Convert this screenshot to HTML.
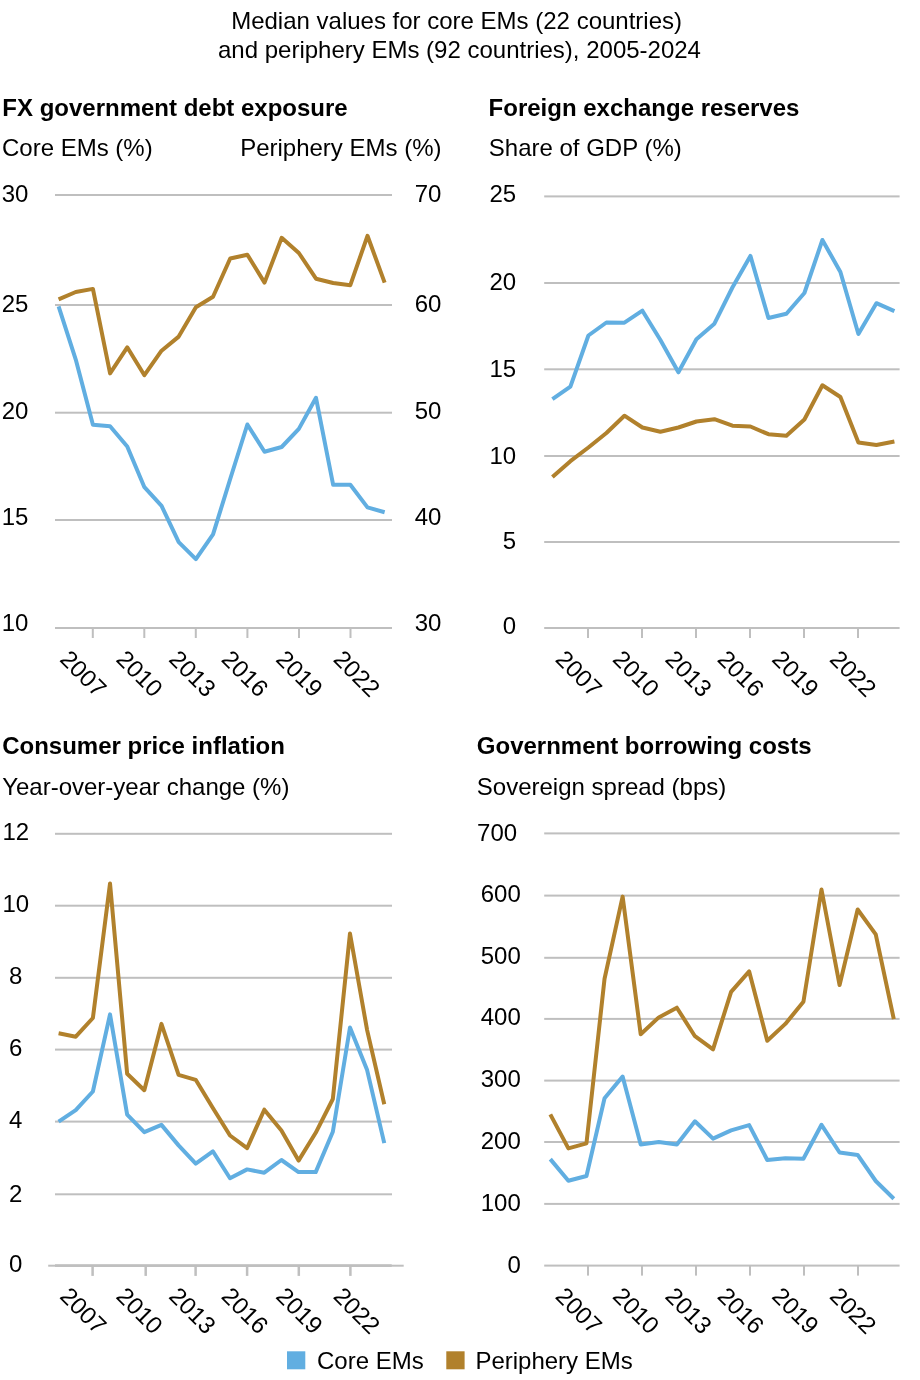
<!DOCTYPE html>
<html lang="en">
<head>
<meta charset="utf-8">
<title>Median values for core EMs and periphery EMs, 2005-2024</title>
<style>
html, body { margin: 0; padding: 0; background: #ffffff; }
body { width: 920px; height: 1380px; overflow: hidden; }
svg { display: block; }
text { font-family: "Liberation Sans", Arial, Helvetica, sans-serif; fill: #000000; }
</style>
</head>
<body>
<svg width="920" height="1380" viewBox="0 0 920 1380" font-size="24">
<rect x="0" y="0" width="920" height="1380" fill="#ffffff"/>
<text x="456.6" y="29" text-anchor="middle">Median values for core EMs (22 countries)</text>
<text x="459.5" y="57.6" text-anchor="middle">and periphery EMs (92 countries), 2005-2024</text>
<text x="2.3" y="115.7" font-weight="bold">FX government debt exposure</text>
<text x="2" y="155.7">Core EMs (%)</text>
<text x="441.5" y="155.7" text-anchor="end">Periphery EMs (%)</text>
<rect x="55" y="194.00" width="337.00" height="2" fill="#bfbfbf"/>
<text x="15.1" y="201.8" text-anchor="middle">30</text>
<text x="428" y="201.8" text-anchor="middle">70</text>
<rect x="55" y="304.00" width="337.00" height="2" fill="#bfbfbf"/>
<text x="15.1" y="312.3" text-anchor="middle">25</text>
<text x="428" y="312.3" text-anchor="middle">60</text>
<rect x="55" y="411.70" width="337.00" height="2" fill="#bfbfbf"/>
<text x="15.1" y="418.9" text-anchor="middle">20</text>
<text x="428" y="418.9" text-anchor="middle">50</text>
<rect x="55" y="519.00" width="337.00" height="2" fill="#bfbfbf"/>
<text x="15.1" y="524.7" text-anchor="middle">15</text>
<text x="428" y="524.7" text-anchor="middle">40</text>
<rect x="55" y="627.00" width="337.00" height="2" fill="#bfbfbf"/>
<text x="15.1" y="631.2" text-anchor="middle">10</text>
<text x="428" y="631.2" text-anchor="middle">30</text>
<rect x="91.80" y="628.00" width="2" height="10.00" fill="#bfbfbf"/>
<rect x="143.30" y="628.00" width="2" height="10.00" fill="#bfbfbf"/>
<rect x="194.80" y="628.00" width="2" height="10.00" fill="#bfbfbf"/>
<rect x="246.40" y="628.00" width="2" height="10.00" fill="#bfbfbf"/>
<rect x="298.00" y="628.00" width="2" height="10.00" fill="#bfbfbf"/>
<rect x="349.50" y="628.00" width="2" height="10.00" fill="#bfbfbf"/>
<text transform="translate(83.60 673.40) rotate(45)" text-anchor="middle" y="8.6">2007</text>
<text transform="translate(140.00 673.40) rotate(45)" text-anchor="middle" y="8.6">2010</text>
<text transform="translate(192.80 673.40) rotate(45)" text-anchor="middle" y="8.6">2013</text>
<text transform="translate(245.30 673.40) rotate(45)" text-anchor="middle" y="8.6">2016</text>
<text transform="translate(299.80 673.40) rotate(45)" text-anchor="middle" y="8.6">2019</text>
<text transform="translate(357.10 673.40) rotate(45)" text-anchor="middle" y="8.6">2022</text>
<polyline points="58.60,306.30 75.76,359.60 92.92,424.80 110.08,426.30 127.24,446.50 144.40,487.20 161.56,505.90 178.72,542.20 195.88,559.20 213.04,534.40 230.20,479.00 247.36,424.50 264.52,451.70 281.68,447.00 298.84,428.90 316.00,397.80 333.16,484.80 350.32,484.80 367.48,507.40 384.64,512.20" fill="none" stroke="#61aee1" stroke-width="4.0" stroke-linejoin="round" stroke-linecap="butt"/>
<polyline points="58.60,299.40 75.76,292.00 92.92,288.90 110.08,373.40 127.24,347.30 144.40,375.20 161.56,350.70 178.72,336.60 195.88,307.20 213.04,296.80 230.20,258.50 247.36,254.70 264.52,282.60 281.68,237.80 298.84,253.00 316.00,278.70 333.16,283.00 350.32,285.20 367.48,235.80 384.64,282.60" fill="none" stroke="#b1812c" stroke-width="4.0" stroke-linejoin="round" stroke-linecap="butt"/>
<text x="488.6" y="115.7" font-weight="bold">Foreign exchange reserves</text>
<text x="488.8" y="155.7">Share of GDP (%)</text>
<rect x="544.2" y="195.40" width="355.40" height="2" fill="#bfbfbf"/>
<text x="516.2" y="202.4" text-anchor="end">25</text>
<rect x="544.2" y="282.00" width="355.40" height="2" fill="#bfbfbf"/>
<text x="516.2" y="290.2" text-anchor="end">20</text>
<rect x="544.2" y="368.30" width="355.40" height="2" fill="#bfbfbf"/>
<text x="516.2" y="376.9" text-anchor="end">15</text>
<rect x="544.2" y="455.00" width="355.40" height="2" fill="#bfbfbf"/>
<text x="516.2" y="464.0" text-anchor="end">10</text>
<rect x="544.2" y="541.00" width="355.40" height="2" fill="#bfbfbf"/>
<text x="516.2" y="549.0" text-anchor="end">5</text>
<rect x="544.2" y="627.00" width="355.40" height="2" fill="#bfbfbf"/>
<text x="516.2" y="634.3" text-anchor="end">0</text>
<rect x="587.00" y="628.00" width="2" height="10.00" fill="#bfbfbf"/>
<rect x="641.00" y="628.00" width="2" height="10.00" fill="#bfbfbf"/>
<rect x="695.00" y="628.00" width="2" height="10.00" fill="#bfbfbf"/>
<rect x="749.00" y="628.00" width="2" height="10.00" fill="#bfbfbf"/>
<rect x="803.00" y="628.00" width="2" height="10.00" fill="#bfbfbf"/>
<rect x="857.00" y="628.00" width="2" height="10.00" fill="#bfbfbf"/>
<text transform="translate(579.20 673.40) rotate(45)" text-anchor="middle" y="8.6">2007</text>
<text transform="translate(636.40 673.40) rotate(45)" text-anchor="middle" y="8.6">2010</text>
<text transform="translate(688.90 673.40) rotate(45)" text-anchor="middle" y="8.6">2013</text>
<text transform="translate(741.10 673.40) rotate(45)" text-anchor="middle" y="8.6">2016</text>
<text transform="translate(795.80 673.40) rotate(45)" text-anchor="middle" y="8.6">2019</text>
<text transform="translate(853.40 673.40) rotate(45)" text-anchor="middle" y="8.6">2022</text>
<polyline points="552.40,399.20 570.40,386.70 588.40,335.50 606.40,322.50 624.40,322.70 642.40,310.70 660.40,340.00 678.40,372.30 696.40,339.20 714.40,323.70 732.40,287.50 750.40,255.90 768.40,318.00 786.40,313.70 804.40,293.00 822.40,240.00 840.40,272.00 858.40,334.00 876.40,303.20 894.40,311.20" fill="none" stroke="#61aee1" stroke-width="4.0" stroke-linejoin="round" stroke-linecap="butt"/>
<polyline points="552.40,477.00 570.40,461.20 588.40,447.50 606.40,433.00 624.40,415.70 642.40,427.50 660.40,431.70 678.40,427.50 696.40,421.50 714.40,419.20 732.40,425.70 750.40,426.50 768.40,434.20 786.40,435.70 804.40,419.50 822.40,385.30 840.40,397.00 858.40,442.50 876.40,445.00 894.40,441.50" fill="none" stroke="#b1812c" stroke-width="4.0" stroke-linejoin="round" stroke-linecap="butt"/>
<text x="2.2" y="753.7" font-weight="bold">Consumer price inflation</text>
<text x="2.2" y="794.5">Year-over-year change (%)</text>
<rect x="55" y="832.80" width="337.00" height="2" fill="#bfbfbf"/>
<text x="15.8" y="839.8" text-anchor="middle">12</text>
<rect x="55" y="904.70" width="337.00" height="2" fill="#bfbfbf"/>
<text x="15.8" y="911.7" text-anchor="middle">10</text>
<rect x="55" y="976.80" width="337.00" height="2" fill="#bfbfbf"/>
<text x="15.8" y="983.6" text-anchor="middle">8</text>
<rect x="55" y="1048.60" width="337.00" height="2" fill="#bfbfbf"/>
<text x="15.8" y="1055.7" text-anchor="middle">6</text>
<rect x="55" y="1120.60" width="337.00" height="2" fill="#bfbfbf"/>
<text x="15.8" y="1127.9" text-anchor="middle">4</text>
<rect x="55" y="1193.30" width="337.00" height="2" fill="#bfbfbf"/>
<text x="15.8" y="1202.1" text-anchor="middle">2</text>
<rect x="48.2" y="1264.70" width="355.50" height="2.0" fill="#bfbfbf"/>
<rect x="55" y="1264.25" width="336.70" height="2.7" fill="#bfbfbf"/>
<text x="15.8" y="1272.2" text-anchor="middle">0</text>
<rect x="91.35" y="1265.60" width="2.5" height="10.30" fill="#bfbfbf"/>
<rect x="144.45" y="1265.60" width="2.5" height="10.30" fill="#bfbfbf"/>
<rect x="194.35" y="1265.60" width="2.5" height="10.30" fill="#bfbfbf"/>
<rect x="245.85" y="1265.60" width="2.5" height="10.30" fill="#bfbfbf"/>
<rect x="297.55" y="1265.60" width="2.5" height="10.30" fill="#bfbfbf"/>
<rect x="349.15" y="1265.60" width="2.5" height="10.30" fill="#bfbfbf"/>
<text transform="translate(83.60 1310.40) rotate(45)" text-anchor="middle" y="8.6">2007</text>
<text transform="translate(140.00 1310.40) rotate(45)" text-anchor="middle" y="8.6">2010</text>
<text transform="translate(192.80 1310.40) rotate(45)" text-anchor="middle" y="8.6">2013</text>
<text transform="translate(245.30 1310.40) rotate(45)" text-anchor="middle" y="8.6">2016</text>
<text transform="translate(299.80 1310.40) rotate(45)" text-anchor="middle" y="8.6">2019</text>
<text transform="translate(357.10 1310.40) rotate(45)" text-anchor="middle" y="8.6">2022</text>
<polyline points="58.60,1121.70 75.74,1110.20 92.88,1091.50 110.02,1014.40 127.16,1114.60 144.30,1132.20 161.44,1124.90 178.58,1145.40 195.72,1163.70 212.86,1151.30 230.00,1178.20 247.14,1169.40 264.28,1172.70 281.42,1160.00 298.56,1172.10 315.70,1172.10 332.84,1131.70 349.98,1027.50 367.12,1070.10 384.26,1143.10" fill="none" stroke="#61aee1" stroke-width="4.0" stroke-linejoin="round" stroke-linecap="butt"/>
<polyline points="58.60,1033.30 75.74,1036.70 92.88,1018.00 110.02,883.40 127.16,1073.70 144.30,1090.20 161.44,1023.90 178.58,1074.80 195.72,1079.80 212.86,1108.00 230.00,1135.50 247.14,1148.10 264.28,1109.70 281.42,1130.50 298.56,1160.60 315.70,1132.80 332.84,1099.00 349.98,933.50 367.12,1030.10 384.26,1104.30" fill="none" stroke="#b1812c" stroke-width="4.0" stroke-linejoin="round" stroke-linecap="butt"/>
<text x="476.8" y="753.7" font-weight="bold">Government borrowing costs</text>
<text x="476.8" y="794.5">Sovereign spread (bps)</text>
<rect x="544.2" y="832.40" width="355.40" height="2" fill="#bfbfbf"/>
<text x="517.1" y="841.2" text-anchor="end">700</text>
<rect x="544.2" y="894.60" width="355.40" height="2" fill="#bfbfbf"/>
<text x="520.8" y="901.8" text-anchor="end">600</text>
<rect x="544.2" y="956.80" width="355.40" height="2" fill="#bfbfbf"/>
<text x="520.8" y="964.0" text-anchor="end">500</text>
<rect x="544.2" y="1017.90" width="355.40" height="2" fill="#bfbfbf"/>
<text x="520.8" y="1025.3" text-anchor="end">400</text>
<rect x="544.2" y="1079.60" width="355.40" height="2" fill="#bfbfbf"/>
<text x="520.8" y="1086.8" text-anchor="end">300</text>
<rect x="544.2" y="1141.00" width="355.40" height="2" fill="#bfbfbf"/>
<text x="520.8" y="1149.1" text-anchor="end">200</text>
<rect x="544.2" y="1202.90" width="355.40" height="2" fill="#bfbfbf"/>
<text x="520.8" y="1211.2" text-anchor="end">100</text>
<rect x="544.2" y="1264.60" width="355.40" height="2" fill="#bfbfbf"/>
<text x="520.8" y="1272.9" text-anchor="end">0</text>
<rect x="587.00" y="1265.60" width="2" height="10.00" fill="#bfbfbf"/>
<rect x="641.00" y="1265.60" width="2" height="10.00" fill="#bfbfbf"/>
<rect x="695.00" y="1265.60" width="2" height="10.00" fill="#bfbfbf"/>
<rect x="749.00" y="1265.60" width="2" height="10.00" fill="#bfbfbf"/>
<rect x="803.00" y="1265.60" width="2" height="10.00" fill="#bfbfbf"/>
<rect x="857.00" y="1265.60" width="2" height="10.00" fill="#bfbfbf"/>
<text transform="translate(579.20 1310.40) rotate(45)" text-anchor="middle" y="8.6">2007</text>
<text transform="translate(636.40 1310.40) rotate(45)" text-anchor="middle" y="8.6">2010</text>
<text transform="translate(688.90 1310.40) rotate(45)" text-anchor="middle" y="8.6">2013</text>
<text transform="translate(741.10 1310.40) rotate(45)" text-anchor="middle" y="8.6">2016</text>
<text transform="translate(795.80 1310.40) rotate(45)" text-anchor="middle" y="8.6">2019</text>
<text transform="translate(853.40 1310.40) rotate(45)" text-anchor="middle" y="8.6">2022</text>
<polyline points="550.30,1159.10 568.38,1180.80 586.46,1176.00 604.54,1098.30 622.62,1076.50 640.70,1144.50 658.78,1142.10 676.86,1144.50 694.94,1121.30 713.02,1138.60 731.10,1130.40 749.18,1125.10 767.26,1160.00 785.34,1158.30 803.42,1158.80 821.50,1124.80 839.58,1152.50 857.66,1154.90 875.74,1181.00 893.82,1198.70" fill="none" stroke="#61aee1" stroke-width="4.0" stroke-linejoin="round" stroke-linecap="butt"/>
<polyline points="550.30,1114.40 568.38,1148.40 586.46,1143.40 604.54,978.80 622.62,896.60 640.70,1034.20 658.78,1017.40 676.86,1007.70 694.94,1036.20 713.02,1049.30 731.10,991.80 749.18,971.40 767.26,1040.70 785.34,1023.90 803.42,1001.80 821.50,889.50 839.58,985.10 857.66,909.50 875.74,934.40 893.82,1019.20" fill="none" stroke="#b1812c" stroke-width="4.0" stroke-linejoin="round" stroke-linecap="butt"/>
<rect x="287" y="1351.3" width="18.3" height="18" fill="#61aee1"/>
<text x="317.0" y="1368.6">Core EMs</text>
<rect x="446.3" y="1351.3" width="18.3" height="18" fill="#b1812c"/>
<text x="475.4" y="1368.6">Periphery EMs</text>
</svg>
</body>
</html>
